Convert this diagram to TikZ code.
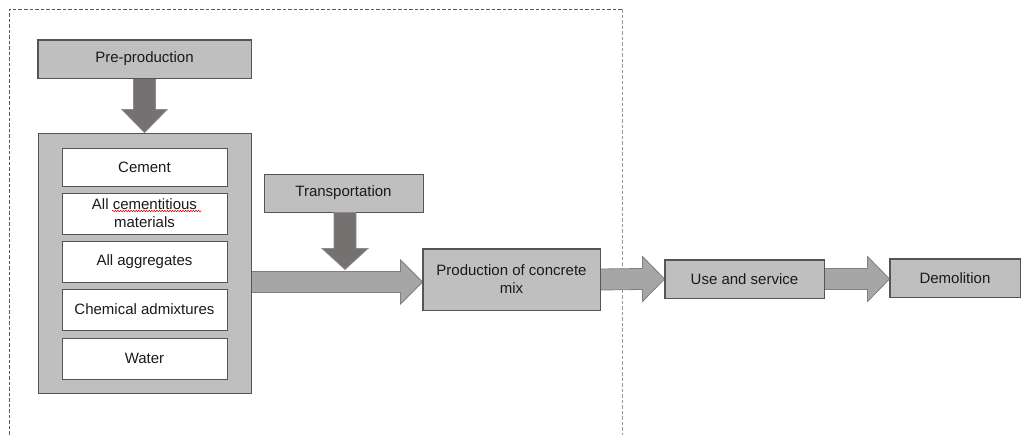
\documentclass[tikz,border=0pt]{standalone}
\usepackage{fontspec}
\setmainfont{Liberation Sans}
\usetikzlibrary{calc,decorations.pathmorphing}
\definecolor{boxfill}{HTML}{BFBFBF}
\definecolor{boxline}{HTML}{555555}
\definecolor{harfill}{HTML}{A6A6A6}
\definecolor{harline}{HTML}{808080}
\definecolor{darfill}{HTML}{767171}
\definecolor{darline}{HTML}{8A8A8A}
\definecolor{txt}{HTML}{1A1A1A}
\tikzset{
  graybox/.style={draw=boxline, fill=boxfill, line width=0.9pt, inner sep=0pt, align=center, text=txt,
    font=\fontsize{15}{18}\selectfont},
  whitebox/.style={graybox, fill=white, minimum width=165pt},
  harr/.style={draw=harline, fill=harfill, line width=0.8pt, line join=miter},
  darr/.style={draw=darline, fill=darfill, line width=0.8pt, line join=miter},
  frameA/.style={draw=black!65, line width=0.8pt, dash pattern=on 3.5pt off 2pt},
  frameB/.style={draw=black!40, line width=0.8pt, dash pattern=on 3.5pt off 2pt},
}
\begin{document}
\begin{tikzpicture}[x=1pt,y=-1pt]
\useasboundingbox (0,0) rectangle (1021,435);
% dashed frame
\coordinate (fbl) at (9.5,435);
\coordinate (ftl) at (9.5,9.5);
\coordinate (ftr) at (622,9.5);
\coordinate (fbr) at (622,435);
\draw[frameA] (fbl) -- (ftl) -- (ftr);
\draw[frameB] (ftr) -- (fbr);
% nodes
\node[graybox, minimum width=213pt, minimum height=38pt] (pre) at (144.5,59) {Pre-production};
\node[graybox, minimum width=213pt, minimum height=260pt] (big) at (144.5,263) {};
\node[whitebox, minimum height=38pt] (cem) at (144.5,167) {Cement};
\node[whitebox, minimum height=41pt] (cmat) at (144.5,213.5) {All cementitious\\materials};
\node[whitebox, minimum height=41pt] (agg) at (144.5,261.5) {All aggregates};
\node[whitebox, minimum height=41pt] (chem) at (144.5,309.5) {Chemical admixtures};
\node[whitebox, minimum height=41pt] (wat) at (144.5,358.5) {Water};
\node[graybox, minimum width=159pt, minimum height=38pt] (trans) at (343.5,193) {Transportation};
\node[graybox, minimum width=177pt, minimum height=61pt] (prod) at (511.5,279.5) {Production of concrete\\mix};
\node[graybox, minimum width=159pt, minimum height=38pt] (use) at (744.5,279) {Use and service};
\node[graybox, minimum width=130pt, minimum height=38pt] (dem) at (955,278) {Demolition};
% spell-check squiggle
\coordinate (sq1) at (112,211);
\coordinate (sq2) at (201,211);
\draw[red!85!black, line width=0.5pt, decorate, decoration={snake, amplitude=0.8pt, segment length=2.6pt}] (sq1) -- (sq2);
% down arrow 1
\coordinate (d1a) at (pre.south);
\coordinate (d1b) at (big.north);
\draw[darr] ($(d1a)+(-11,0)$) -- ($(d1b)+(-11,-23)$) -- ($(d1b)+(-22.5,-23)$) -- (d1b)
  -- ($(d1b)+(22.5,-23)$) -- ($(d1b)+(11,-23)$) -- ($(d1a)+(11,0)$) -- cycle;
% horizontal arrow 1
\coordinate (h1a) at ($(big.east |- prod.west)+(0,2.5)$);
\coordinate (h1b) at ($(prod.west)+(0,2.5)$);
\draw[harr] ($(h1a)+(0,-10.5)$) -- ($(h1b)+(-22,-10.5)$) -- ($(h1b)+(-22,-22)$) -- (h1b)
  -- ($(h1b)+(-22,22)$) -- ($(h1b)+(-22,10.5)$) -- ($(h1a)+(0,10.5)$) -- cycle;
\draw[graybox, fill=none] (big.north east) -- (big.south east);
% down arrow 2
\coordinate (d2a) at ($(trans.south)+(1.5,0)$);
\coordinate (d2b) at ($(d2a)+(0,57)$);
\draw[darr] ($(d2a)+(-11,0)$) -- ($(d2b)+(-11,-21)$) -- ($(d2b)+(-23,-21)$) -- (d2b)
  -- ($(d2b)+(23,-21)$) -- ($(d2b)+(11,-21)$) -- ($(d2a)+(11,0)$) -- cycle;
% horizontal arrow 2
\coordinate (h2a) at (prod.east);
\coordinate (h2b) at (use.west);
\draw[harr] ($(h2a)+(0,-10.5)$) -- ($(h2b)+(-22,-10.5)$) -- ($(h2b)+(-22,-22.5)$) -- (h2b)
  -- ($(h2b)+(-22,22.5)$) -- ($(h2b)+(-22,10.5)$) -- ($(h2a)+(0,10.5)$) -- cycle;
% horizontal arrow 3
\coordinate (h3a) at (use.east);
\coordinate (h3b) at (dem.west |- use.east);
\draw[harr] ($(h3a)+(0,-10.5)$) -- ($(h3b)+(-22,-10.5)$) -- ($(h3b)+(-22,-22.5)$) -- (h3b)
  -- ($(h3b)+(-22,22.5)$) -- ($(h3b)+(-22,10.5)$) -- ($(h3a)+(0,10.5)$) -- cycle;
% redraw box borders over arrow bases
\draw[draw=boxline, line width=0.9pt] (prod.north west) rectangle (prod.south east);
\draw[draw=boxline, line width=0.9pt] (use.north west) rectangle (use.south east);
\draw[draw=boxline, line width=0.9pt] (dem.north west) rectangle (dem.south east);
\draw[draw=boxline, line width=0.9pt] (pre.north west) rectangle (pre.south east);
\end{tikzpicture}
\end{document}
